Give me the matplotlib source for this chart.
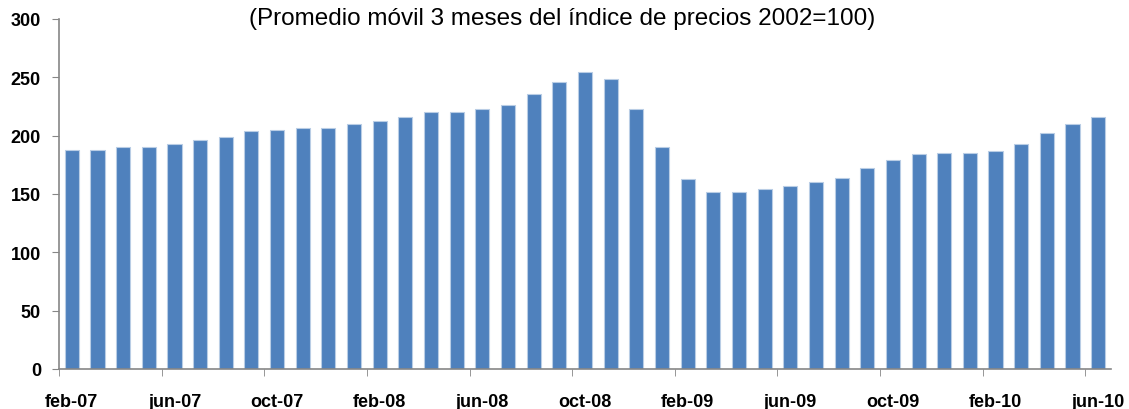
import numpy as np
from matplotlib import pyplot as plt

plt.rcParams['font.family'] = ['Liberation Sans', 'DejaVu Sans']

labels = []
for year in ['07', '08', '09', '10']:
    for m in ['ene', 'feb', 'mar', 'abr', 'may', 'jun', 'jul', 'ago', 'sep', 'oct', 'nov', 'dic']:
        labels.append(m + '-' + year)
labels = labels[1:42]  # feb-07 .. jun-10

values = [188, 188, 190, 190, 193, 196, 199, 204, 205, 207,
          207, 210, 213, 216, 220, 220, 223, 226, 236, 246,
          255, 249, 223, 190, 163, 152, 152, 154, 157, 160,
          164, 172, 179, 184, 185, 185, 187, 193, 202, 210,
          216]

title = '(Promedio móvil 3 meses del índice de precios 2002=100)'

fig = plt.figure(figsize=(11.29, 4.10), dpi=100)
ax = fig.add_axes([59 / 1129, 40 / 410, (1111 - 59) / 1129, 350 / 410])

x = np.arange(len(values))
ax.bar(x, values, width=0.55, color='#4F81BD', edgecolor='#B9CDE5', linewidth=0.8)

ax.set_xlim(-0.5, len(values) - 0.5)
ax.set_ylim(0, 300)
ax.set_yticks(np.arange(0, 301, 50))

# labels every 4 months, tick marks at category boundaries
ax.set_xticks(x[::4])
ax.set_xticklabels(labels[::4])
ax.set_xticks(np.arange(-0.5, len(values) - 0.5, 4), minor=True)
ax.tick_params(axis='x', which='major', length=0, pad=17, labelsize=13)
ax.tick_params(axis='x', which='minor', length=5, color='#868686', direction='out')
ax.tick_params(axis='y', length=5, color='#868686', labelsize=13, pad=8)
for lab in ax.get_xticklabels() + ax.get_yticklabels():
    lab.set_fontweight('bold')

for side in ['top', 'right']:
    ax.spines[side].set_visible(False)
for side in ['left', 'bottom']:
    ax.spines[side].set_color('#868686')
    ax.spines[side].set_linewidth(1.2)

fig.text(562 / 1129, 1 - 25 / 410, title, ha='center', va='baseline', fontsize=17.5)

fig.savefig('out.png', dpi=100)
